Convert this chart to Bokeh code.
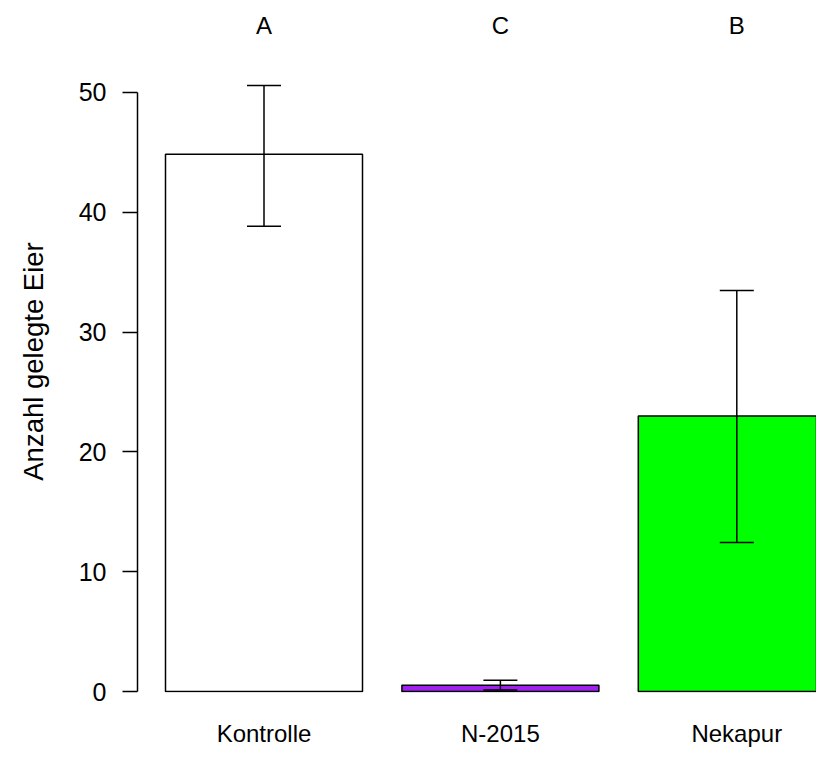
from bokeh.plotting import figure
from bokeh.models import LinearAxis, FixedTicker, Range1d, Whisker, ColumnDataSource, TeeHead
from bokeh.embed import file_html
from bokeh.resources import INLINE

categories = ["Kontrolle", "N-2015", "Nekapur"]
means = [44.83, 0.53, 23.0]
lower = [38.83, 0.12, 12.44]
upper = [50.58, 0.94, 33.47]
letters = ["A", "C", "B"]
colors = ["#FFFFFF", "#A020F0", "#00FF00"]
yticks = [0, 10, 20, 30, 40, 50]

xs = list(range(len(categories)))
FONT = "Liberation Sans"

p = figure(width=816, height=749,
           x_range=Range1d(-0.53511, 2.33714), y_range=Range1d(-1 / 12, 55.1667),
           output_backend="svg", toolbar_location=None,
           x_axis_location=None, y_axis_location=None,
           min_border_left=137, min_border_right=0,
           min_border_top=30, min_border_bottom=56)
p.outline_line_color = None
p.xgrid.visible = False
p.ygrid.visible = False
p.background_fill_color = "white"
p.border_fill_color = "white"

src = ColumnDataSource(dict(x=xs, top=means, lower=lower, upper=upper, color=colors))
p.vbar(x="x", top="top", bottom=0, width=1 / 1.2, fill_color="color",
       line_color="black", line_width=1.5, source=src)

w = Whisker(base="x", lower="lower", upper="upper", source=src, dimension="height",
            line_color="black", line_width=1.5, level="overlay",
            upper_head=TeeHead(size=34, line_width=1.5, line_color="black"),
            lower_head=TeeHead(size=34, line_width=1.5, line_color="black"))
p.add_layout(w)

yax = LinearAxis(ticker=FixedTicker(ticks=yticks), bounds=(0, 50),
                 axis_label="Anzahl gelegte Eier")
yax.major_tick_out = 15
yax.major_tick_in = 0
yax.minor_tick_line_color = None
yax.axis_line_width = 1.5
yax.major_tick_line_width = 1.5
yax.axis_line_color = "black"
yax.major_tick_line_color = "black"
yax.major_label_text_font = FONT
yax.major_label_text_font_size = "25px"
yax.major_label_text_color = "black"
yax.major_label_standoff = 16
yax.axis_label_text_font = FONT
yax.axis_label_text_font_size = "27.5px"
yax.axis_label_text_font_style = "normal"
yax.axis_label_text_color = "black"
yax.axis_label_standoff = 27
p.add_layout(yax, "left")

xax = LinearAxis(ticker=FixedTicker(ticks=xs),
                 major_label_overrides={i: c for i, c in zip(xs, categories)})
xax.axis_line_color = None
xax.major_tick_line_color = None
xax.minor_tick_line_color = None
xax.major_tick_out = 0
xax.major_label_text_font = FONT
xax.major_label_text_font_size = "24px"
xax.major_label_text_color = "black"
xax.major_label_standoff = 27
p.add_layout(xax, "below")

tax = LinearAxis(ticker=FixedTicker(ticks=xs),
                 major_label_overrides={i: c for i, c in zip(xs, letters)})
tax.axis_line_color = None
tax.major_tick_line_color = None
tax.minor_tick_line_color = None
tax.major_tick_out = 0
tax.major_label_text_font = FONT
tax.major_label_text_font_size = "24px"
tax.major_label_text_color = "black"
tax.major_label_standoff = -8
p.add_layout(tax, "above")

open("out.html", "w").write(file_html(p, INLINE))
